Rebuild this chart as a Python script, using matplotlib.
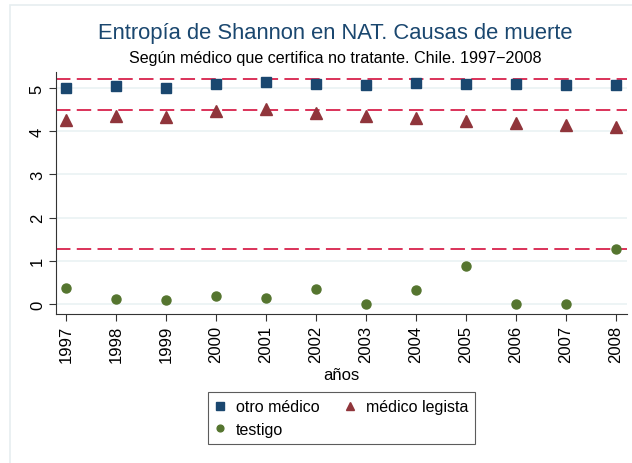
import matplotlib
matplotlib.use('Agg')
import matplotlib.pyplot as plt
from matplotlib.patches import Rectangle

plt.rcParams['font.family'] = ['Liberation Sans', 'DejaVu Sans']

# data
years = [1997, 1998, 1999, 2000, 2001, 2002, 2003, 2004, 2005, 2006, 2007, 2008]
otro_medico = [4.99, 5.04, 5.01, 5.09, 5.14, 5.09, 5.07, 5.11, 5.10, 5.10, 5.07, 5.07]
medico_legista = [4.25, 4.35, 4.32, 4.47, 4.51, 4.42, 4.35, 4.31, 4.23, 4.19, 4.15, 4.09]
testigo = [0.37, 0.12, 0.10, 0.19, 0.15, 0.36, 0.01, 0.32, 0.87, 0.00, 0.00, 1.27]
ref_lines = [5.2, 4.5, 1.28]

navy = '#1a476f'
maroon = '#90353b'
green = '#55752f'

fig = plt.figure(figsize=(6.32, 4.64), dpi=100)
fig.patch.set_facecolor('white')
# faint outer frame
fig.add_artist(Rectangle((10 / 632, -0.1), 1.2, 1.1 - 6 / 464, transform=fig.transFigure,
                         fill=False, edgecolor='#e6eef0', lw=1.2))

ax = fig.add_axes([56 / 632, 149 / 464, 571 / 632, 242 / 464])

for v in [0, 1, 2, 3, 4, 5]:
    ax.axhline(v, color='#eaf2f3', lw=1.2, zorder=0)
for v in ref_lines:
    ax.axhline(v, color='#d8224c', lw=1.3, ls=(0, (8, 3.5)), zorder=1)

h1, = ax.plot(years, otro_medico, 's', color=navy, ms=7, label='otro médico', zorder=3)
h2, = ax.plot(years, medico_legista, '^', color=maroon, ms=8, label='médico legista', zorder=3)
h3, = ax.plot(years, testigo, 'o', color=green, ms=6.5, label='testigo', zorder=3)

ax.set_xlim(1996.8, 2008.22)
ax.set_ylim(-0.23, 5.37)
ax.set_xticks(years)
ax.set_xticklabels([str(y) for y in years], rotation=90)
ax.set_yticks([0, 1, 2, 3, 4, 5])
ax.set_yticklabels(['0', '1', '2', '3', '4', '5'], rotation=90, va='center')
ax.tick_params(labelsize=12, length=5, color='#333333', pad=3)

for s in ['top', 'right']:
    ax.spines[s].set_visible(False)
for s in ['left', 'bottom']:
    ax.spines[s].set_color('#333333')

ax.set_xlabel('años', fontsize=12, labelpad=3)

fig.text(335 / 632, 1 - 34 / 464, 'Entropía de Shannon en NAT. Causas de muerte',
         ha='center', va='center', fontsize=15.8, color=navy)
fig.text(335 / 632, 1 - 59 / 464, 'Según médico que certifica no tratante. Chile. 1997\u22122008',
         ha='center', va='center', fontsize=11.6)

# order so that row 1 = otro médico, médico legista; row 2 = testigo
leg = fig.legend([h1, h3, h2], ['otro médico', 'testigo', 'médico legista'],
                 loc='center', bbox_to_anchor=(341.5 / 632, 1 - 419 / 464), ncol=2,
                 fontsize=11.5, frameon=True, fancybox=False, edgecolor='#333333',
                 handlelength=0.6, handletextpad=0.7, columnspacing=1.6,
                 borderpad=0.45, labelspacing=0.45, markerscale=0.75)
leg.get_frame().set_linewidth(0.8)

fig.savefig('out.png', dpi=100)
